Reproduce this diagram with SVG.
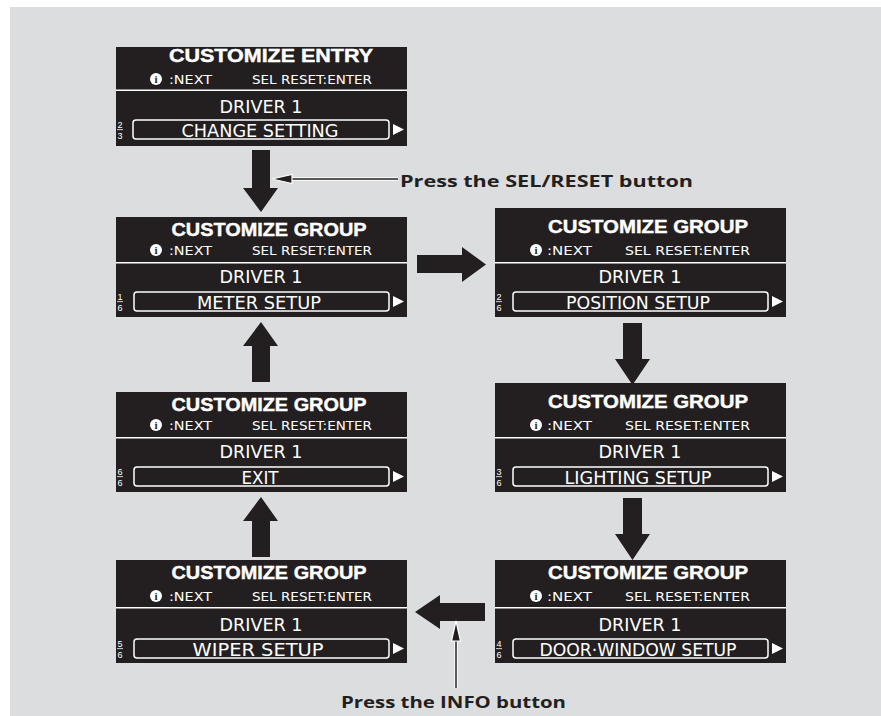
<svg xmlns="http://www.w3.org/2000/svg" width="881" height="716" viewBox="0 0 881 716">
<defs>
<style>
.bg{fill:#dcddde}
.scr{fill:#231f20}
.hdr{font-family:"Liberation Sans","DejaVu Sans",sans-serif;font-weight:900;font-size:18px;fill:#fff;text-anchor:middle;stroke:#fff;stroke-width:0.4}
.sub{font-family:"Liberation Sans Narrow","DejaVu Sans Condensed","Liberation Sans",sans-serif;font-size:12.5px;fill:#fff}
.drv{font-family:"Liberation Sans Narrow","DejaVu Sans Condensed","Liberation Sans",sans-serif;font-size:18px;fill:#fff;text-anchor:middle}
.frac{font-family:"Liberation Sans","DejaVu Sans",sans-serif;font-size:9px;fill:#fff;text-anchor:middle}
.sep{fill:#fff}
.box{fill:none;stroke:#fff;stroke-width:1.5}
.tri{fill:#fff}
.blk{fill:#231f20}
.lab{font-family:"Open Sans","DejaVu Sans",sans-serif;font-weight:bold;font-size:16px;fill:#231f20}
.halo{stroke:#fff;stroke-width:3.5;fill:none}
.ln{stroke:#231f20;stroke-width:1.5;fill:none}
</style>
<g id="info">
<circle cx="0" cy="0" r="6" fill="#fff"/>
<text x="0" y="4" font-family="Liberation Serif, serif" font-weight="bold" font-size="11" fill="#231f20" text-anchor="middle">i</text>
</g>
</defs>
<rect class="bg" x="10" y="7" width="871" height="709"/>

<g id="entry" transform="translate(116,47)">
<rect class="scr" x="0" y="0" width="291" height="99"/>
<text class="hdr" x="155" y="15" textLength="204" lengthAdjust="spacingAndGlyphs">CUSTOMIZE ENTRY</text>
<use href="#info" x="40" y="32"/>
<text class="sub" x="53" y="37" textLength="43" lengthAdjust="spacingAndGlyphs">:NEXT</text>
<text class="sub" x="136" y="37" textLength="120" lengthAdjust="spacingAndGlyphs">SEL RESET:ENTER</text>
<rect class="sep" x="0" y="42.5" width="291" height="1.5"/>
<text class="drv" x="145" y="66" textLength="83" lengthAdjust="spacingAndGlyphs">DRIVER 1</text>
<rect class="box" x="17" y="73" width="256" height="19" rx="3"/>
<text class="drv" x="144" y="89.5" textLength="157" lengthAdjust="spacingAndGlyphs">CHANGE SETTING</text>
<text class="frac" x="4" y="81">2</text><rect class="sep" x="1" y="82.3" width="6" height="0.8"/><text class="frac" x="4" y="92">3</text>
<polygon class="tri" points="277,77 277,88 288,82.5"/>
</g>

<g id="meter" transform="translate(116,217)">
<rect class="scr" x="0" y="0" width="291" height="100"/>
<text class="hdr" x="153" y="19" textLength="195" lengthAdjust="spacingAndGlyphs">CUSTOMIZE GROUP</text>
<use href="#info" x="40" y="33"/>
<text class="sub" x="53" y="38" textLength="43" lengthAdjust="spacingAndGlyphs">:NEXT</text>
<text class="sub" x="136" y="38" textLength="120" lengthAdjust="spacingAndGlyphs">SEL RESET:ENTER</text>
<rect class="sep" x="0" y="45" width="291" height="1.5"/>
<text class="drv" x="145" y="66" textLength="83" lengthAdjust="spacingAndGlyphs">DRIVER 1</text>
<rect class="box" x="18" y="75" width="255" height="19" rx="3"/>
<text class="drv" x="143" y="91.5" textLength="124" lengthAdjust="spacingAndGlyphs">METER SETUP</text>
<text class="frac" x="4" y="83">1</text><rect class="sep" x="1" y="84.3" width="6" height="0.8"/><text class="frac" x="4" y="94">6</text>
<polygon class="tri" points="277,79 277,90 288,84.5"/>
</g>

<g id="position" transform="translate(495,217)">
<rect class="scr" x="0" y="-9" width="291" height="109"/>
<text class="hdr" x="153" y="16" textLength="200" lengthAdjust="spacingAndGlyphs">CUSTOMIZE GROUP</text>
<use href="#info" x="41" y="33"/>
<text class="sub" x="52" y="38" textLength="45" lengthAdjust="spacingAndGlyphs">:NEXT</text>
<text class="sub" x="130" y="38" textLength="125" lengthAdjust="spacingAndGlyphs">SEL RESET:ENTER</text>
<rect class="sep" x="0" y="45" width="291" height="1.5"/>
<text class="drv" x="145" y="66" textLength="83" lengthAdjust="spacingAndGlyphs">DRIVER 1</text>
<rect class="box" x="18" y="75" width="255" height="19" rx="3"/>
<text class="drv" x="143" y="91.5" textLength="144" lengthAdjust="spacingAndGlyphs">POSITION SETUP</text>
<text class="frac" x="4" y="83">2</text><rect class="sep" x="1" y="84.3" width="6" height="0.8"/><text class="frac" x="4" y="94">6</text>
<polygon class="tri" points="277,79 277,90 288,84.5"/>
</g>

<g id="lighting" transform="translate(495,392)">
<rect class="scr" x="0" y="-9" width="291" height="109"/>
<text class="hdr" x="153" y="16" textLength="200" lengthAdjust="spacingAndGlyphs">CUSTOMIZE GROUP</text>
<use href="#info" x="41" y="33"/>
<text class="sub" x="52" y="38" textLength="45" lengthAdjust="spacingAndGlyphs">:NEXT</text>
<text class="sub" x="130" y="38" textLength="125" lengthAdjust="spacingAndGlyphs">SEL RESET:ENTER</text>
<rect class="sep" x="0" y="45" width="291" height="1.5"/>
<text class="drv" x="145" y="66" textLength="83" lengthAdjust="spacingAndGlyphs">DRIVER 1</text>
<rect class="box" x="18" y="75" width="255" height="19" rx="3"/>
<text class="drv" x="143" y="91.5" textLength="147" lengthAdjust="spacingAndGlyphs">LIGHTING SETUP</text>
<text class="frac" x="4" y="83">3</text><rect class="sep" x="1" y="84.3" width="6" height="0.8"/><text class="frac" x="4" y="94">6</text>
<polygon class="tri" points="277,79 277,90 288,84.5"/>
</g>

<g id="doorwindow" transform="translate(495,564)">
<rect class="scr" x="0" y="-4" width="291" height="103"/>
<text class="hdr" x="153" y="15" textLength="200" lengthAdjust="spacingAndGlyphs">CUSTOMIZE GROUP</text>
<use href="#info" x="41" y="32"/>
<text class="sub" x="52" y="37" textLength="45" lengthAdjust="spacingAndGlyphs">:NEXT</text>
<text class="sub" x="130" y="37" textLength="125" lengthAdjust="spacingAndGlyphs">SEL RESET:ENTER</text>
<rect class="sep" x="0" y="43" width="291" height="1.5"/>
<text class="drv" x="145" y="67" textLength="83" lengthAdjust="spacingAndGlyphs">DRIVER 1</text>
<rect class="box" x="18" y="75" width="255" height="19" rx="3"/>
<text class="drv" x="143" y="91.5" textLength="197" lengthAdjust="spacingAndGlyphs">DOOR·WINDOW SETUP</text>
<text class="frac" x="4" y="83">4</text><rect class="sep" x="1" y="84.3" width="6" height="0.8"/><text class="frac" x="4" y="94">6</text>
<polygon class="tri" points="277,79 277,90 288,84.5"/>
</g>

<g id="wiper" transform="translate(116,564)">
<rect class="scr" x="0" y="-4" width="291" height="103"/>
<text class="hdr" x="153" y="15" textLength="195" lengthAdjust="spacingAndGlyphs">CUSTOMIZE GROUP</text>
<use href="#info" x="40" y="32"/>
<text class="sub" x="53" y="37" textLength="43" lengthAdjust="spacingAndGlyphs">:NEXT</text>
<text class="sub" x="136" y="37" textLength="120" lengthAdjust="spacingAndGlyphs">SEL RESET:ENTER</text>
<rect class="sep" x="0" y="43" width="291" height="1.5"/>
<text class="drv" x="145" y="67" textLength="83" lengthAdjust="spacingAndGlyphs">DRIVER 1</text>
<rect class="box" x="18" y="75" width="255" height="19" rx="3"/>
<text class="drv" x="142" y="91.5" textLength="131" lengthAdjust="spacingAndGlyphs">WIPER SETUP</text>
<text class="frac" x="4" y="83">5</text><rect class="sep" x="1" y="84.3" width="6" height="0.8"/><text class="frac" x="4" y="94">6</text>
<polygon class="tri" points="277,79 277,90 288,84.5"/>
</g>

<g id="exit" transform="translate(116,392)">
<rect class="scr" x="0" y="0" width="291" height="100"/>
<text class="hdr" x="153" y="19" textLength="195" lengthAdjust="spacingAndGlyphs">CUSTOMIZE GROUP</text>
<use href="#info" x="40" y="33"/>
<text class="sub" x="53" y="38" textLength="43" lengthAdjust="spacingAndGlyphs">:NEXT</text>
<text class="sub" x="136" y="38" textLength="120" lengthAdjust="spacingAndGlyphs">SEL RESET:ENTER</text>
<rect class="sep" x="0" y="45" width="291" height="1.5"/>
<text class="drv" x="145" y="66" textLength="83" lengthAdjust="spacingAndGlyphs">DRIVER 1</text>
<rect class="box" x="18" y="75" width="255" height="19" rx="3"/>
<text class="drv" x="144" y="91.5" textLength="37" lengthAdjust="spacingAndGlyphs">EXIT</text>
<text class="frac" x="4" y="83">6</text><rect class="sep" x="1" y="84.3" width="6" height="0.8"/><text class="frac" x="4" y="94">6</text>
<polygon class="tri" points="277,79 277,90 288,84.5"/>
</g>

<g id="connectors">
<polygon class="blk" points="252,150 270,150 270,188 278,188 261,212 243,188 252,188"/>
<polygon class="blk" points="417,255 462,255 462,247 486,264.5 462,282 462,273 417,273"/>
<polygon class="blk" points="623,323 642,323 642,359 650,359 632.5,385 615,359 623,359"/>
<polygon class="blk" points="623,498 642,498 642,534 650,534 632.5,560 615,534 623,534"/>
<polygon class="blk" points="485,603 440,603 440,595 415,612 440,629 440,621 485,621"/>
<polygon class="blk" points="252,557 270,557 270,521 278,521 261,497 243,521 252,521"/>
<polygon class="blk" points="252,382 270,382 270,346 278,346 261,322 243,346 252,346"/>
<line class="halo" x1="288" y1="179" x2="398" y2="179"/>
<line class="ln" x1="288" y1="179" x2="398" y2="179"/>
<polygon points="272,179 292,174.5 292,183.5" fill="#231f20" stroke="#fff" stroke-width="1.2"/>
<line class="halo" x1="456" y1="637" x2="456" y2="688"/>
<line class="ln" x1="456" y1="637" x2="456" y2="688"/>
<polygon points="456,621 451.5,641 460.5,641" fill="#231f20" stroke="#fff" stroke-width="1.2"/>
</g>
<text class="lab" x="400" y="187" textLength="293" lengthAdjust="spacingAndGlyphs">Press the SEL/RESET button</text>
<text class="lab" x="341" y="708" textLength="225" lengthAdjust="spacingAndGlyphs">Press the INFO button</text>
</svg>
